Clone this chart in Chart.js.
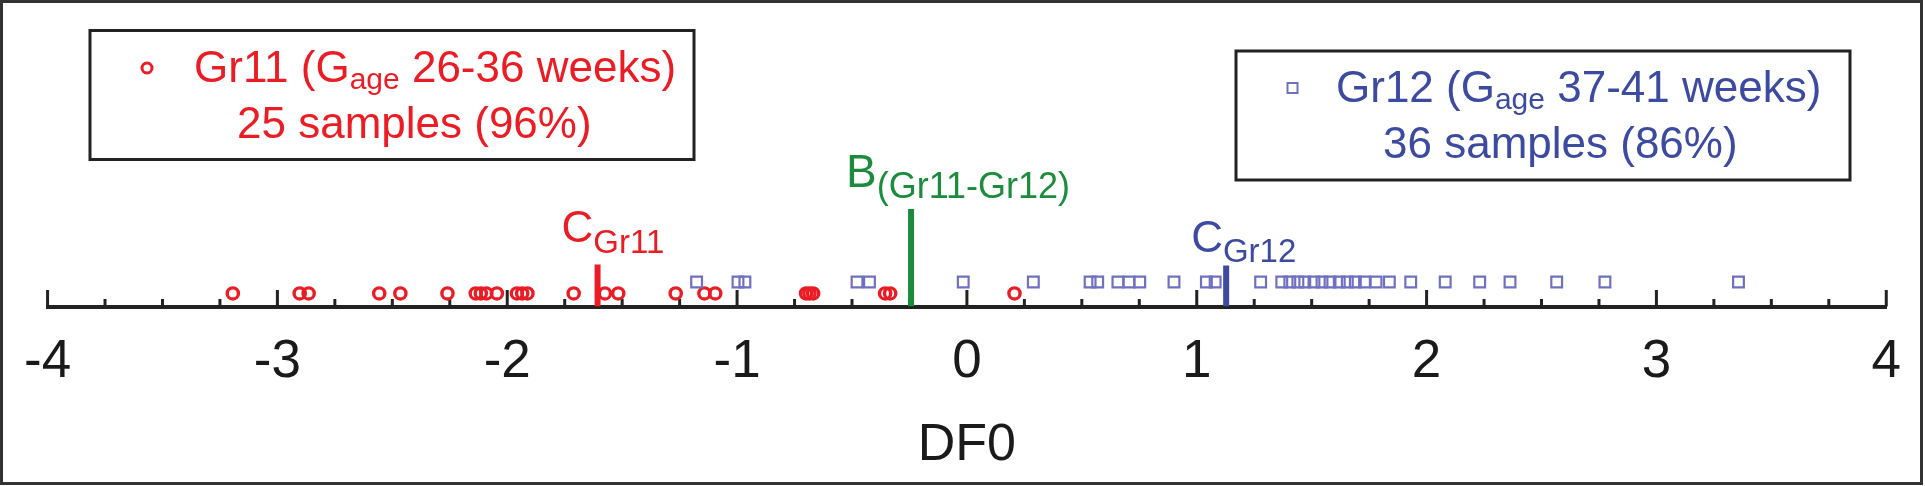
<!DOCTYPE html>
<html>
<head>
<meta charset="utf-8">
<script src="https://cdn.jsdelivr.net/npm/chart.js@4.4.1/dist/chart.umd.min.js"></script>
<style>
  html, body { margin: 0; padding: 0; background: #fff; }
  #wrap { width: 1925px; height: 486px; position: relative; }
</style>
</head>
<body>
<div id="wrap"><canvas id="canvas"></canvas></div>
<script>
// DF0 scores
var gr11 = [-3.194, -2.903, -2.864, -2.557, -2.465, -2.260, -2.137, -2.115, -2.091, -2.045,
            -1.958, -1.935, -1.912, -1.711, -1.575, -1.517, -1.267, -1.142, -1.095,
            -0.700, -0.685, -0.669, -0.356, -0.334, 0.207];
var gr12 = [-1.176, -0.996, -0.966, -0.478, -0.424,
            -0.016, 0.289, 0.536, 0.569, 0.657, 0.705, 0.752, 0.901, 1.042, 1.080, 1.278,
            1.370, 1.405, 1.440, 1.470, 1.510, 1.545, 1.580, 1.620, 1.655, 1.690, 1.730, 1.780,
            1.838, 1.931, 2.081, 2.231, 2.363, 2.566, 2.776, 3.357];
// centroids and boundary
var cGr11 = -1.607;
var cGr12 = 1.128;
var bGr = -0.243;
var axisMin = -4, axisMax = 4;
var axisTitle = 'DF0';
var legend11 = ['Gr11 (G', 'age', ' 26-36 weeks)', '25 samples (96%)'];
var legend12 = ['Gr12 (G', 'age', ' 37-41 weeks)', '36 samples (86%)'];

var RED = '#ec1c24', BLUE = '#3c4aa0', SQ = '#7070c2', GREEN = '#1a8c3c', INK = '#1a1a1a';
var FONT = '"Liberation Sans", Arial, sans-serif';

// rows of the strip plot (y scale 0..30, 10px a unit)
var gr11Row = 1.32, gr12Row = 2.48;

function pts(arr, row) {
    return arr.map(function (v) { return {x: v, y: row}; });
}
function bar(v, h) {
    return [{x: v, y: 0}, {x: v, y: h}];
}

function drawRich(ctx, x, y, parts, color) {
    ctx.fillStyle = color;
    ctx.textAlign = 'left';
    ctx.textBaseline = 'alphabetic';
    parts.forEach(function (p) {
        ctx.font = p.size + 'px ' + FONT;
        ctx.fillText(p.text, x, y + (p.dy || 0));
        x += ctx.measureText(p.text).width;
    });
}

// small ticks pointing up from the axis, at the scale's own ticks
var axisTicks = {
    id: 'axisTicks',
    beforeDatasetsDraw: function (chart) {
        var sx = chart.scales.x, ctx = chart.ctx, base = chart.chartArea.bottom;
        ctx.save();
        ctx.strokeStyle = '#222';
        ctx.lineWidth = 3;
        sx.ticks.forEach(function (t) {
            var px = sx.getPixelForValue(t.value);
            var major = Math.abs(t.value - Math.round(t.value)) < 1e-6;
            ctx.beginPath();
            ctx.moveTo(px, base);
            ctx.lineTo(px, base - (major ? 16.5 : 7.5));
            ctx.stroke();
        });
        ctx.restore();
    }
};

var annotations = {
    id: 'annotations',
    afterDraw: function (chart) {
        var ctx = chart.ctx, sx = chart.scales.x;
        ctx.save();
        // outer frame
        ctx.strokeStyle = '#333';
        ctx.lineWidth = 3;
        ctx.strokeRect(1.5, 1.5, 1920, 482);

        // legend boxes
        ctx.strokeStyle = '#222';
        ctx.strokeRect(90, 30.5, 604, 129);
        ctx.strokeRect(1236, 51, 614, 129);

        ctx.strokeStyle = RED;
        ctx.lineWidth = 3;
        ctx.beginPath();
        ctx.arc(147, 68, 5, 0, Math.PI * 2);
        ctx.stroke();
        drawRich(ctx, 194, 82, [
            {text: legend11[0], size: 44},
            {text: legend11[1], size: 30, dy: 7},
            {text: legend11[2], size: 44}
        ], RED);
        drawRich(ctx, 237, 138, [{text: legend11[3], size: 44}], RED);

        ctx.strokeStyle = SQ;
        ctx.lineWidth = 2;
        ctx.strokeRect(1287.5, 83, 10, 10);
        drawRich(ctx, 1336, 102, [
            {text: legend12[0], size: 44},
            {text: legend12[1], size: 30, dy: 7},
            {text: legend12[2], size: 44}
        ], BLUE);
        drawRich(ctx, 1383, 158, [{text: legend12[3], size: 44}], BLUE);

        // labels over the centroid / boundary marks
        drawRich(ctx, sx.getPixelForValue(cGr11) - 36, 242, [
            {text: 'C', size: 44}, {text: 'Gr11', size: 33, dy: 11}
        ], RED);
        drawRich(ctx, sx.getPixelForValue(cGr12) - 35, 252, [
            {text: 'C', size: 44}, {text: 'Gr12', size: 33, dy: 10}
        ], BLUE);
        drawRich(ctx, sx.getPixelForValue(bGr) - 65, 187, [
            {text: 'B', size: 46}, {text: '(Gr11-Gr12)', size: 36, dy: 11}
        ], GREEN);
        ctx.restore();
    }
};

var ctx = document.getElementById('canvas').getContext('2d');
var myChart = new Chart(ctx, {
    type: 'scatter',
    data: {
        datasets: [
            {
                label: 'C Gr11', data: bar(cGr11, 4.25), showLine: true,
                borderColor: RED, borderWidth: 6, pointRadius: 0, borderCapStyle: 'butt'
            },
            {
                label: 'C Gr12', data: bar(cGr12, 4.15), showLine: true,
                borderColor: BLUE, borderWidth: 6, pointRadius: 0, borderCapStyle: 'butt'
            },
            {
                label: 'B', data: bar(bGr, 9.85), showLine: true,
                borderColor: GREEN, borderWidth: 6, pointRadius: 0, borderCapStyle: 'butt'
            },
            {
                label: 'Gr12', data: pts(gr12, gr12Row),
                pointStyle: 'rect', pointRadius: 7.6, borderWidth: 2.2,
                borderColor: SQ, backgroundColor: 'rgba(0,0,0,0)'
            },
            {
                label: 'Gr11', data: pts(gr11, gr11Row),
                pointStyle: 'circle', pointRadius: 5.6, borderWidth: 3.4,
                borderColor: RED, backgroundColor: 'rgba(0,0,0,0)'
            }
        ]
    },
    options: {
        responsive: true,
        maintainAspectRatio: false,
        animation: false,
        layout: {padding: {left: 39.5, right: 25.5, top: 6.5, bottom: 0}},
        plugins: {legend: {display: false}, tooltip: {enabled: false}},
        scales: {
            x: {
                type: 'linear', min: axisMin, max: axisMax,
                grid: {display: false, drawTicks: false},
                border: {display: true, color: '#222', width: 4},
                ticks: {
                    stepSize: 0.25, maxTicksLimit: 40, autoSkip: false, maxRotation: 0,
                    padding: 24, color: INK,
                    font: {family: FONT, size: 53},
                    callback: function (v) {
                        return Math.abs(v - Math.round(v)) < 1e-6 ? String(Math.round(v)) : '';
                    }
                },
                title: {
                    display: true, text: axisTitle, color: INK,
                    font: {family: FONT, size: 52}, padding: {top: 0, bottom: 9}
                },
                afterFit: function (scale) { scale.height = 179.5; }
            },
            y: {min: 0, max: 30, display: false}
        }
    },
    plugins: [axisTicks, annotations]
});
</script>
</body>
</html>
